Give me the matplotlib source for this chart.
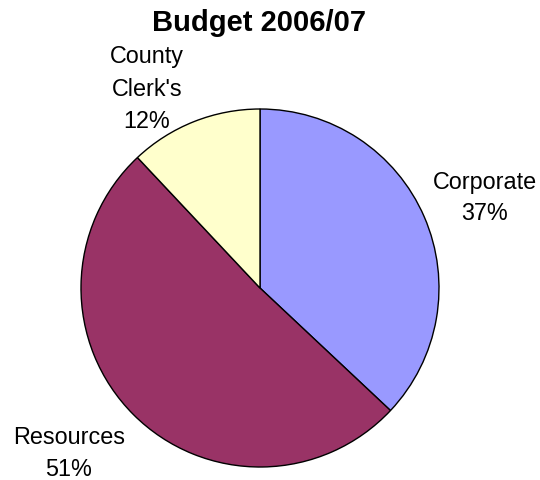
import matplotlib.pyplot as plt

plt.rcParams['font.family'] = ['Liberation Sans', 'DejaVu Sans']

categories = ["Corporate", "Resources", "County\nClerk's"]
shares = [37, 51, 12]
colors = ["#9999FF", "#993366", "#FFFFCC"]

# where each label block sits (pixel units, origin bottom-left)
label_pos = [(485, 283), (69, 27), (147, 392)]

W, H = 540, 481
fig = plt.figure(figsize=(W / 100, H / 100), dpi=100)
ax = fig.add_axes([0, 0, 1, 1])

ax.pie(shares, colors=colors, startangle=90, counterclock=False,
       center=(260, H - 289), radius=179,
       wedgeprops=dict(edgecolor="black", linewidth=1))

total = sum(shares)
for name, v, (x, y) in zip(categories, shares, label_pos):
    ax.text(x, y, f"{name}\n{round(100 * v / total)}%", ha="center", va="center",
            multialignment="center", fontsize=16.8, linespacing=1.5)

ax.set_xlim(0, W)
ax.set_ylim(0, H)
ax.set_aspect("equal")
ax.axis("off")

fig.text(258.5 / W, 1 - 31 / H, "Budget 2006/07", ha="center", va="baseline",
         fontsize=21, fontweight="bold")

fig.savefig("out.png", dpi=100)
